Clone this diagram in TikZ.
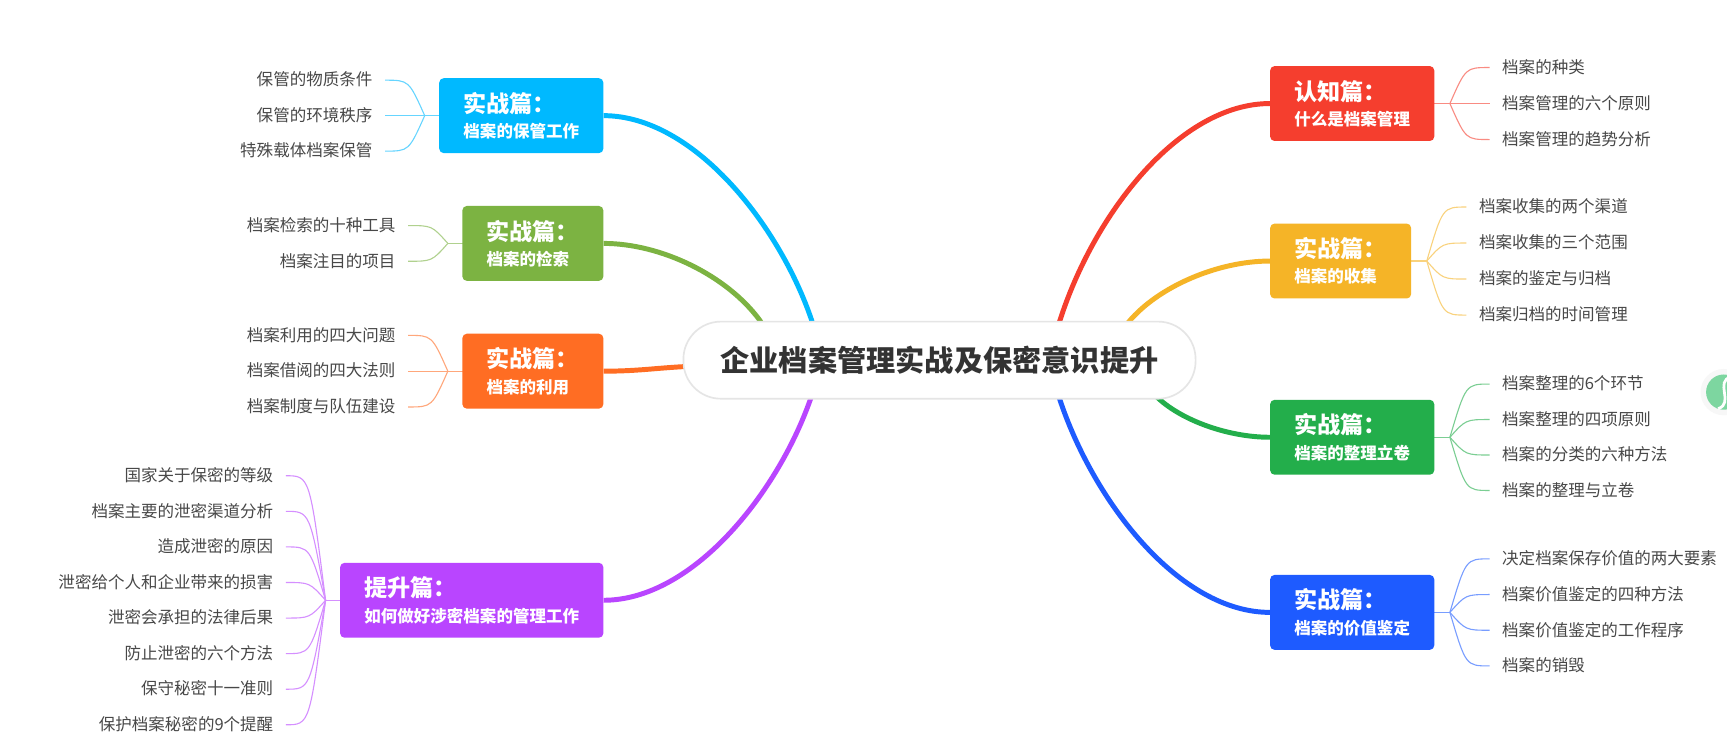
\documentclass[tikz,border=0pt]{standalone}
\usepackage{fontspec}
\setmainfont{Noto Sans CJK SC}
\usetikzlibrary{calc}
\pgfdeclarelayer{paper}
\pgfdeclarelayer{bg}
\pgfsetlayers{paper,bg,main}
\definecolor{cRed}{RGB}{245,62,46}
\definecolor{cYel}{RGB}{245,180,39}
\definecolor{cGrn}{RGB}{35,174,75}
\definecolor{cBlu}{RGB}{30,91,255}
\definecolor{cCya}{RGB}{0,185,255}
\definecolor{cOli}{RGB}{124,179,66}
\definecolor{cOrg}{RGB}{255,109,35}
\definecolor{cPur}{RGB}{185,69,255}
\definecolor{leafgray}{RGB}{72,72,72}
\definecolor{titlegray}{RGB}{51,51,51}
\definecolor{wmgreen}{RGB}{125,214,160}
\newcommand\mmhub[2]{{\fontsize{21}{23}\selectfont #1}\\#2}
\begin{document}
\begin{tikzpicture}[x=1pt,y=-1pt,
  leaf/.style={font=\fontsize{15}{18}\selectfont, text=leafgray, inner xsep=0pt, inner ysep=0pt, outer xsep=11.5pt, text height=12.5pt, text depth=2pt},
  hub/.style={rounded corners=4pt, text=white, align=left, inner xsep=22pt, inner ysep=0pt, minimum height=68pt, font=\bfseries\fontsize{15}{23}\selectfont},
  mainline/.style={line width=4.5pt},
  twig/.style={line width=1pt},
]
\begin{pgfonlayer}{paper}
\fill[white] (0,0) rectangle (1568,678);
\end{pgfonlayer}
\useasboundingbox (0,0) rectangle (1568,678);

% watermark fragment at right edge
\begin{scope}
\clip (0,0) rectangle (1568,678);
\fill[black!3] (1565,356) circle (21);
\fill[wmgreen] (1565,356) circle (16);
\draw[white, line width=2.5pt] (1572,342) .. controls (1556,346) and (1575,366) .. (1560,371);
\end{scope}

% central topic
\node[draw=black!10, line width=1.5pt, fill=white, rounded corners=34pt,
      minimum width=465pt, minimum height=70pt,
      font=\bfseries\fontsize{26.5}{30}\selectfont, text=titlegray] (c) at (853,327)
      {企业档案管理实战及保密意识提升};

% main topics
\node[hub, fill=cRed, anchor=west] (red) at (1153,94) {\mmhub{认知篇：}{什么是档案管理}};
\node[hub, fill=cYel, anchor=west] (yel) at (1153,237) {\mmhub{实战篇：}{档案的收集}};
\node[hub, fill=cGrn, anchor=west] (grn) at (1153,397) {\mmhub{实战篇：}{档案的整理立卷}};
\node[hub, fill=cBlu, anchor=west] (blu) at (1153,556) {\mmhub{实战篇：}{档案的价值鉴定}};
\node[hub, fill=cCya, anchor=east] (cya) at (548,105) {\mmhub{实战篇：}{档案的保管工作}};
\node[hub, fill=cOli, anchor=east] (oli) at (548,221) {\mmhub{实战篇：}{档案的检索}};
\node[hub, fill=cOrg, anchor=east] (org) at (548,337) {\mmhub{实战篇：}{档案的利用}};
\node[hub, fill=cPur, anchor=east] (pur) at (548,545) {\mmhub{提升篇：}{如何做好涉密档案的管理工作}};

% junctions
\coordinate (redJ) at ([xshift=14pt]red.east);
\coordinate (yelJ) at ([xshift=14pt]yel.east);
\coordinate (grnJ) at ([xshift=14pt]grn.east);
\coordinate (bluJ) at ([xshift=14pt]blu.east);
\coordinate (cyaJ) at ([xshift=-13pt]cya.west);
\coordinate (oliJ) at ([xshift=-13pt]oli.west);
\coordinate (orgJ) at ([xshift=-13pt]org.west);
\coordinate (purJ) at ([xshift=-13pt]pur.west);

% sub topics, right
\foreach \t [count=\i] in {档案的种类,档案管理的六个原则,档案管理的趋势分析}
  \node[leaf, anchor=west] (red\i) at ($(redJ)+(36,{(\i-2)*32.7})$) {\t};
\foreach \t [count=\i] in {档案收集的两个渠道,档案收集的三个范围,档案的鉴定与归档,档案归档的时间管理}
  \node[leaf, anchor=west] (yel\i) at ($(yelJ)+(36,{(\i-2.5)*32.7})$) {\t};
\foreach \t [count=\i] in {档案整理的6个环节,档案整理的四项原则,档案的分类的六种方法,档案的整理与立卷}
  \node[leaf, anchor=west] (grn\i) at ($(grnJ)+(36,{(\i-2.5)*32.2})$) {\t};
\foreach \t [count=\i] in {决定档案保存价值的两大要素,档案价值鉴定的四种方法,档案价值鉴定的工作程序,档案的销毁}
  \node[leaf, anchor=west] (blu\i) at ($(bluJ)+(36,{(\i-2.5)*32.4})$) {\t};
% sub topics, left
\foreach \t [count=\i] in {保管的物质条件,保管的环境秩序,特殊载体档案保管}
  \node[leaf, anchor=east] (cya\i) at ($(cyaJ)+(-36,{(\i-2)*32.2})$) {\t};
\foreach \t [count=\i] in {档案检索的十种工具,档案注目的项目}
  \node[leaf, anchor=east] (oli\i) at ($(oliJ)+(-36,{(\i-1.5)*32.4})$) {\t};
\foreach \t [count=\i] in {档案利用的四大问题,档案借阅的四大法则,档案制度与队伍建设}
  \node[leaf, anchor=east] (org\i) at ($(orgJ)+(-36,{(\i-2)*32.5})$) {\t};
\foreach \t [count=\i] in {国家关于保密的等级,档案主要的泄密渠道分析,造成泄密的原因,泄密给个人和企业带来的损害,泄密会承担的法律后果,防止泄密的六个方法,保守秘密十一准则,保护档案秘密的9个提醒}
  \node[leaf, anchor=east] (pur\i) at ($(purJ)+(-36,{(\i-4.5)*32.3})$) {\t};

\begin{pgfonlayer}{bg}
% main connectors
\draw[mainline, cRed] ($(c.center)+(100,-15)$) -- (962,292) .. controls (993,194) and (1071,94) .. (red.west);
\draw[mainline, cYel] ($(c.center)+(158,-17)$) -- (1025,292) .. controls (1052,260) and (1106,237) .. (yel.west);
\draw[mainline, cGrn] ($(c.center)+(180,14)$) -- (1047,357) .. controls (1068,380) and (1113,397) .. (grn.west);
\draw[mainline, cBlu] ($(c.center)+(102,15)$) -- (962,362) .. controls (993,456) and (1071,556) .. (blu.west);
\draw[mainline, cCya] (cya.east) .. controls (630,105) and (708,205) .. (737,291) -- ($(c.center)+(-110,-15)$);
\draw[mainline, cOli] (oli.east) .. controls (600,221) and (660,250) .. (690,291) -- ($(c.center)+(-150,-12)$);
\draw[mainline, cOrg] (org.east) .. controls (585,337) and (600,333) .. ($(c.center)+(-210,5)$);
\draw[mainline, cPur] (pur.east) .. controls (630,545) and (708,445) .. (737,359) -- ($(c.center)+(-110,15)$);

% sub connectors
\foreach \b/\col/\n/\s in {red/cRed/3/west, yel/cYel/4/west, grn/cGrn/4/west, blu/cBlu/4/west,
                           cya/cCya/3/east, oli/cOli/2/east, org/cOrg/3/east, pur/cPur/8/east}{
  \draw[twig, draw=\col!60] (\b.center) -- (\b J);
  \foreach \i in {1,...,\n}
    \draw[twig, draw=\col!60] (\b J) .. controls ($(\b J |- \b\i.\s)!0.4!(\b\i.\s)$) .. (\b\i.\s);
}
\end{pgfonlayer}
\end{tikzpicture}
\end{document}
